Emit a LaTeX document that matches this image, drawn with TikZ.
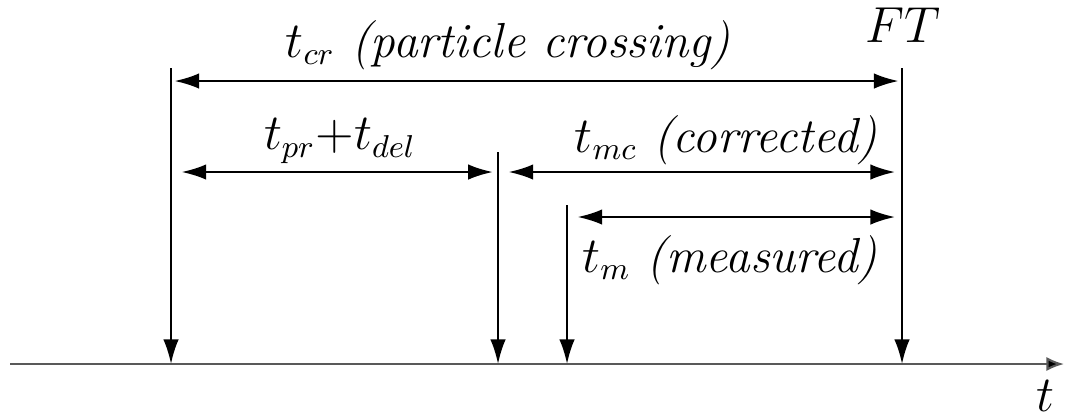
\documentclass[tikz,border=0pt]{standalone}
\usepackage{amsmath}
\usetikzlibrary{arrows.meta, positioning, calc}
\DeclareMathSizes{14}{14}{8.8}{7}

\begin{document}
\begin{tikzpicture}[x=0.01cm, y=-0.01cm, line cap=butt, font=\fontsize{14}{16}\selectfont,
    tick/.style={line width=0.6pt, -{Latex[length=7pt, width=4.4pt]}},
    span/.style={line width=0.6pt, {Latex[length=7pt, width=4.4pt]}-{Latex[length=7pt, width=4.4pt]}},
    lbl/.style={inner sep=1pt}]
    \useasboundingbox (0,0) rectangle (1065,417);
		%asse tempi
		\coordinate (t0) at (10,364);
		\coordinate (t1) at (1064,364);
		\draw[gray!70!black, line width=0.6pt, -{Latex[length=5pt, width=4pt, fill=black]}] (t0) -- (t1);
		\node[lbl] (tlab) at (1045,396) {$t$};

		%segnali verticali
		\coordinate (crT) at (171,68);   \coordinate (crB) at (171,364);
		\coordinate (prT) at (498,152);  \coordinate (prB) at (498,364);
		\coordinate (mT) at (567,205);   \coordinate (mB) at (567,364);
		\coordinate (ftT) at (902,68);   \coordinate (ftB) at (902,364);
		\draw[tick] (crT) -- (crB);
		\draw[tick] (prT) -- (prB);
		\draw[tick] (mT) -- (mB);
		\draw[tick] (ftT) -- (ftB);
		\node[lbl] (ft) at (903,25) {$FT$};

		%intervallo attraversamento
		\coordinate (cr1) at (171,81);   \coordinate (cr2) at (902,81);
		\draw[span, shorten <=1pt, shorten >=1pt] (cr1) -- (cr2);
		\node[lbl] (crlab) at (508,45) {$t_{cr}$ \textit{(particle crossing)}};

		%ritardi
		\coordinate (pr1) at (171,172);  \coordinate (pr2) at (498,172);
		\draw[span, shorten <=3pt, shorten >=1.5pt] (pr1) -- (pr2);
		\node[lbl] (prlab) at (340,141) {$t_{pr}{+}t_{del}$};

		%tempo corretto
		\coordinate (mc1) at (498,172);  \coordinate (mc2) at (902,172);
		\draw[span, shorten <=3pt, shorten >=2pt] (mc1) -- (mc2);
		\node[lbl] (mclab) at (726,140) {$t_{mc}$ \textit{(corrected)}};

		%tempo misurato
		\coordinate (m1) at (567,217);   \coordinate (m2) at (902,217);
		\draw[span, shorten <=3pt, shorten >=2pt] (m1) -- (m2);
		\node[lbl] (mlab) at (730,260) {$t_m$ \textit{(measured)}};
	\end{tikzpicture}
\end{document}
